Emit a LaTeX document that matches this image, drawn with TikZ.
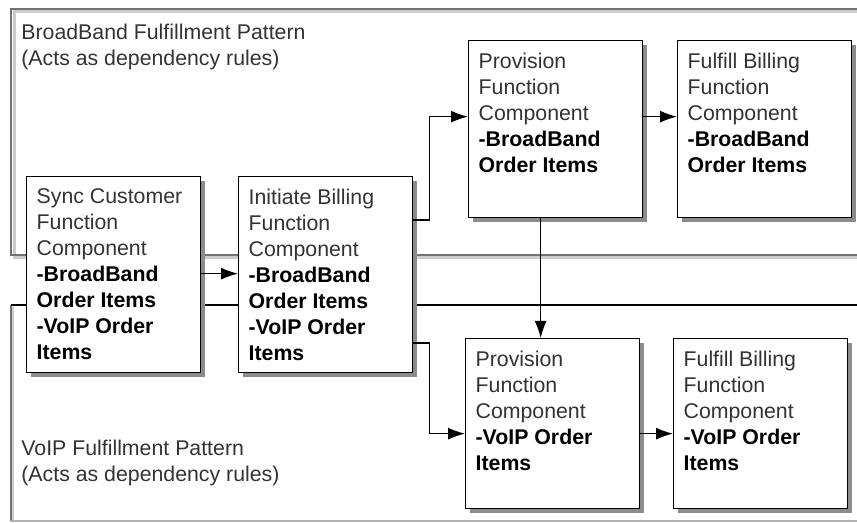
\documentclass[tikz,border=0pt]{standalone}
\usepackage{fontspec}
\setmainfont{Liberation Sans}
\usetikzlibrary{arrows.meta,shadows}
\newcommand{\boxfont}{\fontsize{10.65pt}{13pt}\selectfont}
\newcommand{\comptext}[2]{\parbox[t][#1][t]{77pt}{#2}}
\newcommand{\orditems}[1]{\textcolor{black}{\bfseries #1}}
\tikzset{
  comp/.style={draw=black, line width=0.65pt, fill=white, anchor=north west,
    inner xsep=5pt, inner ysep=6pt, text=black!80, font=\boxfont,
    drop shadow={shadow xshift=2pt, shadow yshift=-2pt, fill=black!45, opacity=1}},
  conn/.style={line width=0.65pt, -{Latex[length=8.5pt,width=6pt]}},
  frameline/.style={draw=black!55, line width=1.3pt},
  frameshade/.style={draw=black!20, line width=1.5pt},
  patt/.style={anchor=north west, inner sep=0pt, align=left, text=black!80, font=\boxfont}
}

\begin{document}
\begin{tikzpicture}[x=0.5pt,y=-0.5pt]
    \useasboundingbox (0,0) rectangle (857,523);

    % pattern frames
    \draw[frameshade] (857,12) -- (14,12) -- (14,258) -- (857,258);
    \draw[frameline] (857,9) -- (11,9) -- (11,255) -- (857,255);
    \draw[black!20, line width=1.2pt] (13,307) -- (13,521);
    \draw[black!55, line width=1.3pt] (11,305) -- (11,521);
    \draw[black!30, line width=0.8pt] (11,521) -- (857,521);
    \draw[black, line width=0.7pt] (11,305) -- (857,305);

    \node[patt] (bbpatt) at (21,23.5) {BroadBand Fulfillment Pattern\\(Acts as dependency rules)};
    \node[patt] (voippatt) at (21,439.5) {VoIP Fulfillment Pattern\\(Acts as dependency rules)};

    % function components
    \node[comp] (sync) at (26,176) {\comptext{86pt}{Sync Customer\\Function\\Component\\
        \orditems{-BroadBand}\\\orditems{Order Items}\\\orditems{-VoIP Order}\\\orditems{Items}}};
    \node[comp] (init) at (238,176) {\comptext{86pt}{Initiate Billing\\Function\\Component\\
        \orditems{-BroadBand}\\\orditems{Order Items}\\\orditems{-VoIP Order}\\\orditems{Items}}};
    \node[comp] (provbb) at (468,40) {\comptext{76.5pt}{Provision\\Function\\Component\\
        \orditems{-BroadBand}\\\orditems{Order Items}}};
    \node[comp] (fulfbb) at (677,40) {\comptext{76.5pt}{Fulfill Billing\\Function\\Component\\
        \orditems{-BroadBand}\\\orditems{Order Items}}};
    \node[comp] (provvoip) at (465,338) {\comptext{73pt}{Provision\\Function\\Component\\
        \orditems{-VoIP Order}\\\orditems{Items}}};
    \node[comp] (fulfvoip) at (673,338) {\comptext{73pt}{Fulfill Billing\\Function\\Component\\
        \orditems{-VoIP Order}\\\orditems{Items}}};

    % dependencies
    \draw[conn] ([yshift=0.5pt]sync.east) -- ([yshift=0.5pt]init.west);
    \draw[conn] ([yshift=-22pt]init.north east) -- ++(8pt,0) |- ([yshift=6.25pt]provbb.west);
    \draw[conn] ([yshift=6.25pt]provbb.east) -- ([yshift=6.25pt]fulfbb.west);
    \draw[conn] ([xshift=-7.5pt]provbb.south) -- ([xshift=-7.5pt]provbb.south |- provvoip.north);
    \draw[conn] ([yshift=-83.5pt]init.north east) -- ++(8pt,0) |- ([yshift=-5pt]provvoip.west);
    \draw[conn] ([yshift=-5pt]provvoip.east) -- ([yshift=-5pt]fulfvoip.west);
\end{tikzpicture}
\end{document}
